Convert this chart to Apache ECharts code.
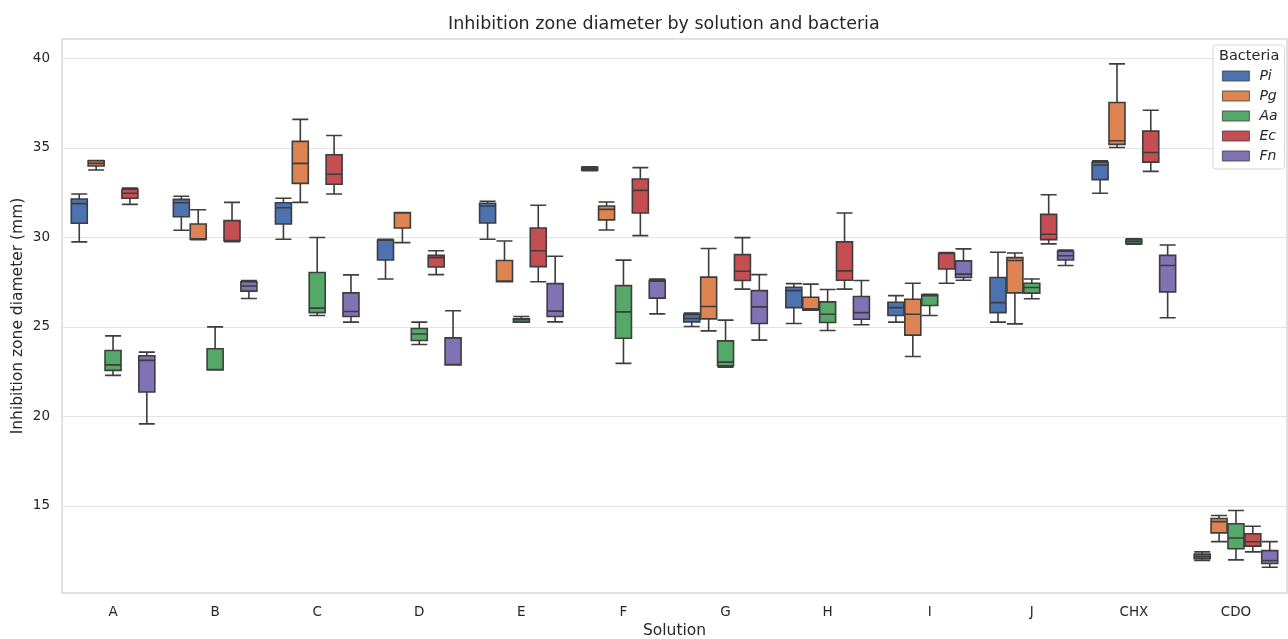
<!DOCTYPE html>
<html>
<head>
<meta charset="utf-8">
<script src="https://cdn.jsdelivr.net/npm/echarts@6/dist/echarts.min.js"></script>
<style>
  html, body { margin: 0; padding: 0; background: #fff; }
  #container { width: 1288px; height: 639px; }
</style>
</head>
<body>
<div id="container"></div>
<script>
// categories on the x axis
var solutions = ['A', 'B', 'C', 'D', 'E', 'F', 'G', 'H', 'I', 'J', 'CHX', 'CDO'];
var bacteria = ['Pi', 'Pg', 'Aa', 'Ec', 'Fn'];
var colors = ['#4c72b0', '#dd8452', '#55a868', '#c44e52', '#8172b3'];

// each box: [min, Q1, median, Q3, max]
var pi = [
    [29.75, 30.79, 31.89, 32.15, 32.43],
    [30.40, 31.16, 31.94, 32.13, 32.30],
    [29.90, 30.75, 31.66, 31.94, 32.19],
    [27.68, 28.74, 29.84, 29.86, 29.90],
    [29.90, 30.81, 31.76, 31.91, 32.02],
    [33.73, 33.76, 33.84, 33.92, 33.95],
    [25.02, 25.28, 25.47, 25.69, 25.77],
    [25.19, 26.08, 27.03, 27.22, 27.42],
    [25.27, 25.64, 26.08, 26.38, 26.75],
    [25.27, 25.80, 26.36, 27.76, 29.17],
    [32.47, 33.23, 34.05, 34.20, 34.29],
    [11.95, 12.05, 12.17, 12.30, 12.43]
];
var pg = [
    [33.77, 33.99, 34.14, 34.29, 34.30],
    [29.88, 29.90, 29.92, 30.75, 31.55],
    [31.96, 33.02, 34.14, 35.37, 36.60],
    [29.71, 30.53, 31.37, 31.39, 31.39],
    [27.52, 27.52, 27.56, 28.71, 29.80],
    [30.42, 30.98, 31.57, 31.76, 31.98],
    [24.78, 25.45, 26.14, 27.78, 29.38],
    [25.94, 25.94, 26.01, 26.66, 27.39],
    [23.35, 24.54, 25.71, 26.55, 27.44],
    [25.17, 26.90, 28.71, 28.87, 29.13],
    [35.03, 35.20, 35.40, 37.54, 39.70],
    [13.00, 13.49, 14.12, 14.29, 14.46]
];
var aa = [
    [22.29, 22.57, 22.88, 23.68, 24.50],
    [22.59, 22.59, 22.62, 23.78, 25.00],
    [25.64, 25.80, 26.05, 28.04, 30.00],
    [24.02, 24.24, 24.60, 24.91, 25.27],
    [25.27, 25.27, 25.40, 25.45, 25.58],
    [22.96, 24.37, 25.84, 27.31, 28.73],
    [22.75, 22.83, 23.03, 24.22, 25.38],
    [24.80, 25.25, 25.71, 26.40, 27.09],
    [25.64, 26.20, 26.75, 26.79, 26.82],
    [26.57, 26.89, 27.20, 27.44, 27.68],
    [29.62, 29.66, 29.77, 29.88, 29.92],
    [11.98, 12.60, 13.20, 14.00, 14.74]
];
var ec = [
    [31.85, 32.19, 32.47, 32.69, 32.76],
    [29.76, 29.80, 29.82, 30.94, 31.96],
    [32.43, 32.97, 33.53, 34.62, 35.70],
    [27.92, 28.35, 28.87, 29.00, 29.26],
    [27.52, 28.37, 29.26, 30.53, 31.80],
    [30.10, 31.37, 32.63, 33.27, 33.90],
    [27.11, 27.59, 28.11, 29.04, 29.99],
    [27.11, 27.61, 28.13, 29.75, 31.37],
    [27.44, 28.24, 29.10, 29.12, 29.15],
    [29.64, 29.88, 30.18, 31.29, 32.39],
    [33.69, 34.21, 34.75, 35.94, 37.11],
    [12.43, 12.75, 12.99, 13.44, 13.86]
];
var fn = [
    [19.58, 21.36, 23.13, 23.39, 23.59],
    [26.59, 27.00, 27.29, 27.52, 27.59],
    [25.27, 25.58, 25.86, 26.90, 27.91],
    [22.87, 22.87, 22.90, 24.39, 25.90],
    [25.28, 25.58, 25.88, 27.42, 28.95],
    [25.73, 26.61, 27.55, 27.61, 27.68],
    [24.26, 25.19, 26.12, 27.03, 27.92],
    [25.12, 25.43, 25.80, 26.70, 27.59],
    [27.61, 27.76, 27.95, 28.69, 29.36],
    [28.43, 28.74, 28.98, 29.23, 29.30],
    [25.51, 26.96, 28.43, 29.00, 29.58],
    [11.57, 11.78, 11.95, 12.50, 13.00]
];
var allData = [pi, pg, aa, ec, fn];

var textColor = '#262626';
var edgeColor = '#3d3d3d';
var font = 'DejaVu Sans';

function draw() {
    var myChart = echarts.init(document.getElementById('container'), null, { renderer: 'canvas' });

    var series = bacteria.map(function(name, i) {
        return {
            name: name,
            type: 'boxplot',
            data: allData[i],
            boxWidth: [16, 16],
            itemStyle: {
                color: colors[i],
                borderColor: edgeColor,
                borderWidth: 1.6
            },
            emphasis: { disabled: true }
        };
    });

    // boxplot legend icons would take the edge colour, so give each one its fill
    var legendData = bacteria.map(function(name, i) {
        return {
            name: name,
            itemStyle: { color: colors[i], borderColor: edgeColor, borderWidth: 0.8 }
        };
    });

    var option = {
        animation: false,
        backgroundColor: '#ffffff',
        textStyle: { fontFamily: font },
        title: [{
            text: 'Inhibition zone diameter by solution and bacteria',
            left: 448,
            top: 15,
            padding: 0,
            textStyle: { fontFamily: font, fontSize: 17.5, fontWeight: 'normal', color: textColor }
        }, {
            // legend title
            text: 'Bacteria',
            left: 1219,
            top: 49,
            padding: 0,
            textStyle: { fontFamily: font, fontSize: 14.5, fontWeight: 'normal', color: textColor }
        }],
        legend: {
            data: legendData,
            orient: 'vertical',
            left: 1213,
            top: 45,
            padding: [24, 7, 6, 9],
            itemWidth: 27,
            itemHeight: 10,
            itemGap: 6,
            icon: 'rect',
            borderColor: '#d6d6d6',
            borderWidth: 1,
            borderRadius: 3,
            backgroundColor: 'rgba(255,255,255,0.85)',
            selectedMode: false,
            textStyle: { fontFamily: font, fontSize: 14, fontStyle: 'italic', color: textColor, padding: [0, 0, 0, 5] }
        },
        grid: {
            left: 62,
            top: 39,
            right: 1,
            bottom: 46,
            show: true,
            borderColor: '#d6d6d6',
            borderWidth: 1.5,
            outerBoundsMode: 'none'
        },
        xAxis: {
            type: 'category',
            data: solutions,
            name: 'Solution',
            nameLocation: 'middle',
            nameGap: 30,
            nameMoveOverlap: false,
            nameTextStyle: { fontFamily: font, fontSize: 15.5, color: textColor },
            axisLine: { show: false },
            axisTick: { show: false },
            axisLabel: { margin: 12, fontSize: 13.5, color: textColor, fontFamily: font },
            splitLine: { show: false }
        },
        yAxis: {
            type: 'value',
            min: 10.13,
            max: 41.09,
            splitNumber: 6,
            name: 'Inhibition zone diameter (mm)',
            nameLocation: 'middle',
            nameGap: 36,
            nameMoveOverlap: false,
            nameTextStyle: { fontFamily: font, fontSize: 15.5, color: textColor },
            axisLine: { show: false },
            axisTick: { show: false },
            axisLabel: {
                margin: 12, fontSize: 13.5, color: textColor, fontFamily: font,
                showMinLabel: false, showMaxLabel: false
            },
            splitLine: { show: true, lineStyle: { color: '#e3e3e3', width: 1.2 } }
        },
        series: series
    };

    myChart.setOption(option);
}

window.addEventListener('load', draw, false);
</script>
</body>
</html>
